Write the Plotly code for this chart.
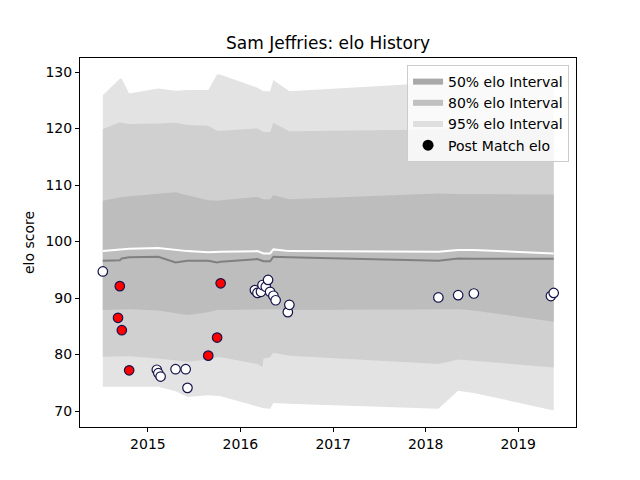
import plotly.graph_objs as go

# Interval bands (evaluated at match dates)
band_dates = ["2014-07-07", "2014-09-12", "2014-09-20", "2014-10-19", "2015-02-11",
              "2015-04-20", "2015-06-06", "2015-08-27", "2015-10-01", "2015-10-15",
              "2016-03-08", "2016-03-28", "2016-04-01", "2016-04-27", "2016-05-10",
              "2016-07-12", "2018-02-20", "2018-05-09", "2018-07-10", "2019-05-21"]
upper_95 = [125.9, 128.8, 128.8, 126.2, 127.1, 126.7, 126.8, 126.8, 129.6, 129.5,
            127.2, 126.6, 126.6, 126.6, 128.6, 126.6, 128.2, 128.3, 128.3, 128.6]
upper_80 = [119.9, 121.1, 121.0, 120.8, 120.9, 121.0, 120.6, 120.5, 119.6, 119.6,
            120.0, 119.4, 119.4, 119.4, 121.0, 119.5, 119.8, 119.9, 119.9, 119.9]
upper_50 = [107.2, 107.8, 107.9, 108.0, 108.4, 108.7, 108.2, 107.3, 107.2, 107.3,
            107.9, 107.5, 107.5, 107.5, 108.2, 107.5, 108.5, 108.4, 108.4, 108.3]
median_elo = [98.3, 98.6, 98.7, 98.7, 98.85, 98.5, 98.3, 98.1, 98.1, 98.2,
              98.3, 97.9, 97.9, 97.9, 98.6, 98.3, 98.2, 98.5, 98.5, 97.9]
mean_elo = [96.6, 96.7, 97.0, 97.2, 97.3, 96.3, 96.6, 96.6, 96.3, 96.4,
            96.9, 96.5, 96.5, 96.5, 97.3, 97.2, 96.6, 97.0, 96.95, 96.95]
lower_50 = [87.9, 88.0, 88.0, 88.0, 87.8, 87.3, 87.0, 87.5, 87.9, 87.9,
            88.0, 88.0, 88.0, 88.0, 88.0, 87.9, 87.9, 88.0, 87.8, 85.8]
lower_80 = [79.6, 79.6, 79.7, 79.7, 79.3, 78.9, 78.7, 79.1, 79.5, 79.5,
            78.3, 77.8, 79.3, 79.5, 80.3, 79.8, 78.3, 79.1, 78.9, 77.7]
lower_95 = [74.3, 74.3, 74.4, 74.4, 74.3, 73.5, 72.5, 72.8, 72.6, 72.6,
            70.8, 70.6, 70.5, 70.4, 71.4, 71.3, 70.4, 73.6, 73.2, 70.1]

# Post match elo
match_dates = ["2014-07-07", "2014-09-05", "2014-09-12", "2014-09-20", "2014-10-19",
               "2015-02-05", "2015-02-11", "2015-02-20", "2015-04-20", "2015-05-30",
               "2015-06-06", "2015-08-27", "2015-10-01", "2015-10-15", "2016-02-27",
               "2016-03-08", "2016-03-22", "2016-03-28", "2016-04-10", "2016-04-19",
               "2016-04-27", "2016-05-10", "2016-05-19", "2016-07-06", "2016-07-12",
               "2018-02-20", "2018-05-09", "2018-07-10", "2019-05-10", "2019-05-21"]
match_elo = [94.7, 86.5, 92.1, 84.3, 77.2, 77.3, 76.7, 76.1, 77.4, 77.4,
             74.1, 79.8, 83.0, 92.6, 91.4, 90.9, 91.1, 92.3, 92.0, 93.2,
             91.1, 90.4, 89.6, 87.5, 88.8, 90.1, 90.5, 90.8, 90.35, 90.9]
flagged = [0, 1, 1, 1, 1, 0, 0, 0, 0, 0,
           0, 1, 1, 1, 0, 0, 0, 0, 0, 0,
           0, 0, 0, 0, 0, 0, 0, 0, 0, 0]

fig = go.Figure()

# bands, widest first
bands = [(lower_95, upper_95, "#e3e3e3"),
         (lower_80, upper_80, "#d0d0d0"),
         (lower_50, upper_50, "#bdbdbd")]
for lo, hi, col in bands:
    fig.add_trace(go.Scatter(x=band_dates, y=lo, mode='lines', line=dict(width=0, color=col),
                             showlegend=False, hoverinfo='skip'))
    fig.add_trace(go.Scatter(x=band_dates, y=hi, mode='lines', line=dict(width=0, color=col),
                             fill='tonexty', fillcolor=col, showlegend=False, hoverinfo='skip'))

fig.add_trace(go.Scatter(x=band_dates, y=mean_elo, mode='lines', showlegend=False,
                         line=dict(color='#808080', width=2)))
fig.add_trace(go.Scatter(x=band_dates, y=median_elo, mode='lines', showlegend=False,
                         line=dict(color='white', width=2)))

# legend-only entries
for name, col in [("50% elo Interval", "#a9a9a9"), ("80% elo Interval", "#c0c0c0"),
                  ("95% elo Interval", "#dfdfdf")]:
    fig.add_trace(go.Scatter(x=[None, None, None], y=[None, None, None], mode='none',
                             fill='toself', fillcolor=col, name=name))
fig.add_trace(go.Scatter(x=[None], y=[None], mode='markers', name='Post Match elo',
                         marker=dict(color='black', size=11)))

fig.add_trace(go.Scatter(x=match_dates, y=match_elo, mode='markers', showlegend=False,
                         marker=dict(color=['red' if f else 'white' for f in flagged],
                                     size=9.5, line=dict(color='#14144a', width=1.2))))

axis_style = dict(showline=True, linecolor='black', linewidth=1, mirror=True,
                  ticks='outside', ticklen=4, tickcolor='black', showgrid=False,
                  zeroline=False, tickfont=dict(size=14, color='black'))
fig.update_xaxes(type='date', range=['2014-04-08', '2019-08-17'], dtick='M12',
                 tick0='2015-01-01', tickformat='%Y', **axis_style)
fig.update_yaxes(range=[67.17, 132.48], dtick=10,
                 title=dict(text='elo score', font=dict(size=14), standoff=7),
                 **axis_style)

# page is offset by the browser's 8px body margin
fig.update_layout(
    width=640, height=480,
    margin=dict(l=72, r=72, t=50, b=61),
    paper_bgcolor='white', plot_bgcolor='white',
    font=dict(family='DejaVu Sans', color='black'),
    title=dict(text='Sam Jeffries: elo History', x=0.5, y=0.927, xanchor='center',
               yanchor='middle', font=dict(size=17)),
    legend=dict(x=0.986, y=0.981, xanchor='right', yanchor='top', traceorder='normal',
                bgcolor='rgba(255,255,255,0.8)', bordercolor='#cccccc', borderwidth=1,
                font=dict(size=14), tracegroupgap=0),
)

fig.write_html("out.html")
